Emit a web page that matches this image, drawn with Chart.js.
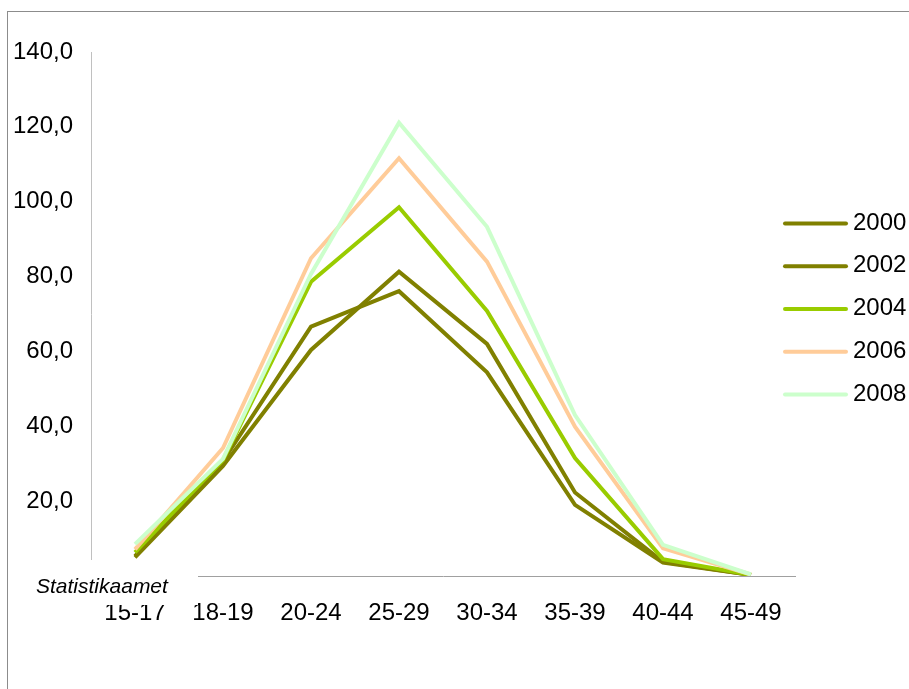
<!DOCTYPE html>
<html>
<head>
<meta charset="utf-8">
<script src="https://cdn.jsdelivr.net/npm/chart.js@4/dist/chart.umd.min.js"></script>
<style>
  html, body { margin: 0; padding: 0; background: #ffffff; }
  #wrap { width: 909px; height: 689px; position: relative; }
</style>
</head>
<body>
<div id="wrap"><canvas id="c" width="909" height="689"></canvas></div>
<script>
// Age groups of mothers
const ageGroups = ['15-17', '18-19', '20-24', '25-29', '30-34', '35-39', '40-44', '45-49'];

// Births per 1000 women by age group
const y2000 = [5.3, 30.7, 66.6, 76.1, 54.4, 19.0, 3.6, 0.3];
const y2002 = [5.0, 29.4, 60.4, 81.3, 62.0, 22.3, 3.8, 0.3];
const y2004 = [6.3, 31.0, 78.6, 98.5, 70.8, 31.5, 4.5, 0.3];
const y2006 = [7.1, 34.2, 84.9, 111.6, 84.0, 39.9, 7.4, 0.4];
const y2008 = [8.5, 31.3, 80.7, 121.1, 93.3, 43.0, 8.3, 0.4];

const seriesNames = ['2000', '2002', '2004', '2006', '2008'];
const seriesValues = [y2000, y2002, y2004, y2006, y2008];
const seriesColors = ['#808000', '#808000', '#99cc00', '#ffcc99', '#ccffcc'];

const yTicks = [0, 20, 40, 60, 80, 100, 120, 140];

const FONT = "'Liberation Sans', Arial, sans-serif";

const decorations = {
  id: 'decorations',
  beforeDraw(chart) {
    const ctx = chart.ctx;
    ctx.save();
    ctx.fillStyle = '#ffffff';
    ctx.fillRect(0, 0, chart.width, chart.height);
    ctx.strokeStyle = '#8c8c8c';
    ctx.lineWidth = 1;
    ctx.strokeRect(7.5, 11.5, 2000, 2000);
    ctx.restore();
  },
  afterDraw(chart) {
    const ctx = chart.ctx;
    ctx.save();
    // source note box in the lower left corner
    ctx.fillStyle = '#ffffff';
    ctx.fillRect(30, 560, 168, 45);
    ctx.fillStyle = '#000000';
    ctx.font = 'italic 21px ' + FONT;
    ctx.textBaseline = 'alphabetic';
    ctx.textAlign = 'left';
    ctx.fillText('Statistikaamet', 36, 593);

    // legend
    ctx.font = '24px ' + FONT;
    chart.data.datasets.forEach((ds, i) => {
      const y = 223.5 + i * 42.75;
      ctx.strokeStyle = ds.borderColor;
      ctx.lineWidth = 4;
      ctx.lineCap = 'round';
      ctx.beginPath();
      ctx.moveTo(785, y);
      ctx.lineTo(846, y);
      ctx.stroke();
      ctx.fillStyle = '#000000';
      ctx.fillText(ds.label, 853, y + 6);
    });
    ctx.restore();
  }
};

new Chart(document.getElementById('c'), {
  type: 'line',
  data: {
    labels: ageGroups,
    datasets: seriesNames.map((name, i) => ({
      label: name,
      data: seriesValues[i],
      borderColor: seriesColors[i],
      backgroundColor: seriesColors[i],
      borderWidth: 4,
      pointRadius: 0,
      tension: 0,
      fill: false,
      order: seriesNames.length - i
    }))
  },
  options: {
    responsive: false,
    animation: false,
    devicePixelRatio: 1,
    layout: { padding: { top: 52, right: 114, left: 0, bottom: 0 } },
    plugins: {
      legend: { display: false },
      tooltip: { enabled: false }
    },
    scales: {
      x: {
        offset: true,
        grid: { display: false, drawTicks: false },
        border: { display: true, color: '#a0a0a0', width: 1 },
        ticks: {
          color: '#000000',
          font: { family: FONT, size: 24 },
          padding: 23,
          maxRotation: 0,
          autoSkip: false
        },
        afterFit(scale) { scale.height = 113; }
      },
      y: {
        min: 0,
        max: 140,
        grid: { display: false, drawTicks: false },
        border: { display: true, color: '#c0c0c0', width: 1 },
        afterBuildTicks(scale) {
          scale.ticks = yTicks.map(v => ({ value: v }));
        },
        ticks: {
          color: '#000000',
          font: { family: FONT, size: 24 },
          padding: 18,
          callback: (v) => v === 0 ? '' : v.toFixed(1).replace('.', ',')
        },
        afterFit(scale) { scale.width = 91; }
      }
    }
  },
  plugins: [decorations]
});
</script>
</body>
</html>
